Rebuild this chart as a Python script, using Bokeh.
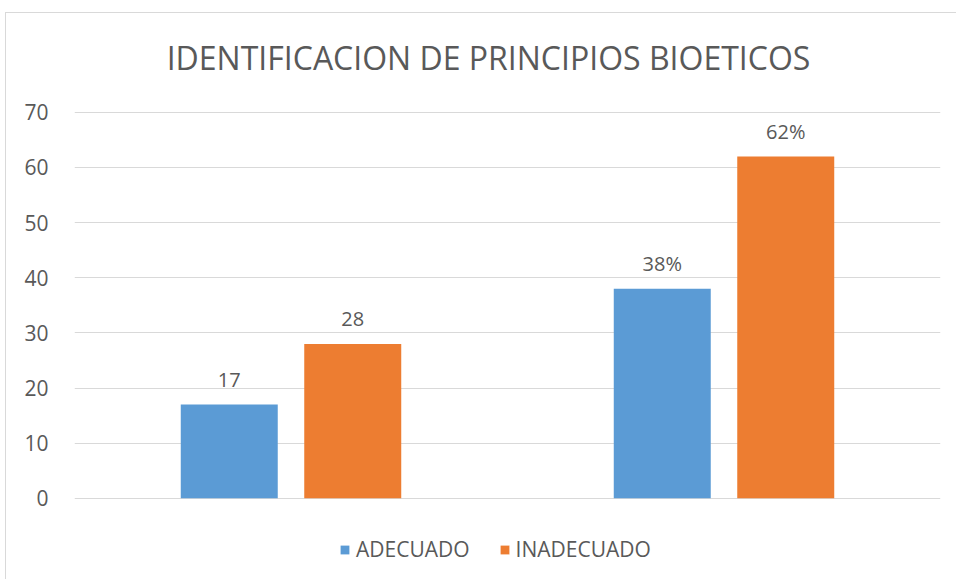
from bokeh.plotting import figure
from bokeh.models import ColumnDataSource, FactorRange, Range1d, Legend, LegendItem, FixedTicker, Label
from bokeh.transform import dodge
from bokeh.core.properties import value
from bokeh.embed import file_html
from bokeh.resources import INLINE

# ---- data ----
groups = ["Frecuencia", "Porcentaje"]
adecuado = [17, 38]
inadecuado = [28, 62]
adecuado_labels = ["17", "38%"]
inadecuado_labels = ["28", "62%"]
y_ticks = [0, 10, 20, 30, 40, 50, 60, 70]
title_text = "IDENTIFICACION DE PRINCIPIOS BIOETICOS"

BLUE = "#5B9BD5"
ORANGE = "#ED7D31"
TXT = "#595959"
FONT = "Open Sans"

src = ColumnDataSource(dict(g=groups, a=adecuado, i=inadecuado,
                            al=adecuado_labels, il=inadecuado_labels))

p = figure(width=951, height=567, output_backend="svg", toolbar_location=None,
           x_range=FactorRange(factors=groups, range_padding=0, factor_padding=0),
           y_range=Range1d(-14, 87.92),
           min_border_left=68, min_border_right=17, min_border_top=0, min_border_bottom=5)

bw = 0.224
off = 0.1426
ra = p.vbar(x=dodge("g", -off, range=p.x_range), top="a", width=bw, source=src,
            fill_color=BLUE, line_color=None)
ri = p.vbar(x=dodge("g", off, range=p.x_range), top="i", width=bw, source=src,
            fill_color=ORANGE, line_color=None)

p.text(x=dodge("g", -off, range=p.x_range), y="a", text="al", source=src,
       text_align="center", text_baseline="alphabetic", y_offset=-25,
       text_font=value(FONT), text_font_size="20px", text_color=TXT)
p.text(x=dodge("g", off, range=p.x_range), y="i", text="il", source=src,
       text_align="center", text_baseline="alphabetic", y_offset=-25,
       text_font=value(FONT), text_font_size="20px", text_color=TXT)

p.xaxis.visible = False
p.yaxis.ticker = FixedTicker(ticks=y_ticks)
p.yaxis.axis_line_color = None
p.yaxis.major_tick_line_color = None
p.yaxis.minor_tick_line_color = None
p.yaxis.major_label_text_font = FONT
p.yaxis.major_label_text_font_size = "21px"
p.yaxis.major_label_text_color = TXT
p.yaxis.major_label_standoff = 20
p.xgrid.grid_line_color = None
p.ygrid.grid_line_color = "#D9D9D9"
p.ygrid.grid_line_width = 1
p.outline_line_color = None

# title as a label (screen units measured from the frame's bottom-left)
p.add_layout(Label(x=414, y=518, x_units="screen", y_units="screen", text=title_text,
                   text_align="center", text_baseline="middle", text_font=FONT,
                   text_font_size="32px", text_color=TXT))

legend = Legend(items=[LegendItem(label="ADECUADO", renderers=[ra]),
                       LegendItem(label="INADECUADO", renderers=[ri])],
                orientation="horizontal", location=(265, 12),
                label_text_font=FONT, label_text_font_size="21px", label_text_color=TXT,
                glyph_width=11, glyph_height=11, label_standoff=6, spacing=29,
                border_line_color=None, background_fill_alpha=0, padding=0, margin=0)
p.add_layout(legend)

p.styles = {"margin-left": "5px", "margin-top": "12px",
            "border-left": "1px solid #D9D9D9", "border-top": "1px solid #D9D9D9"}

open("out.html", "w").write(file_html(p, INLINE))
